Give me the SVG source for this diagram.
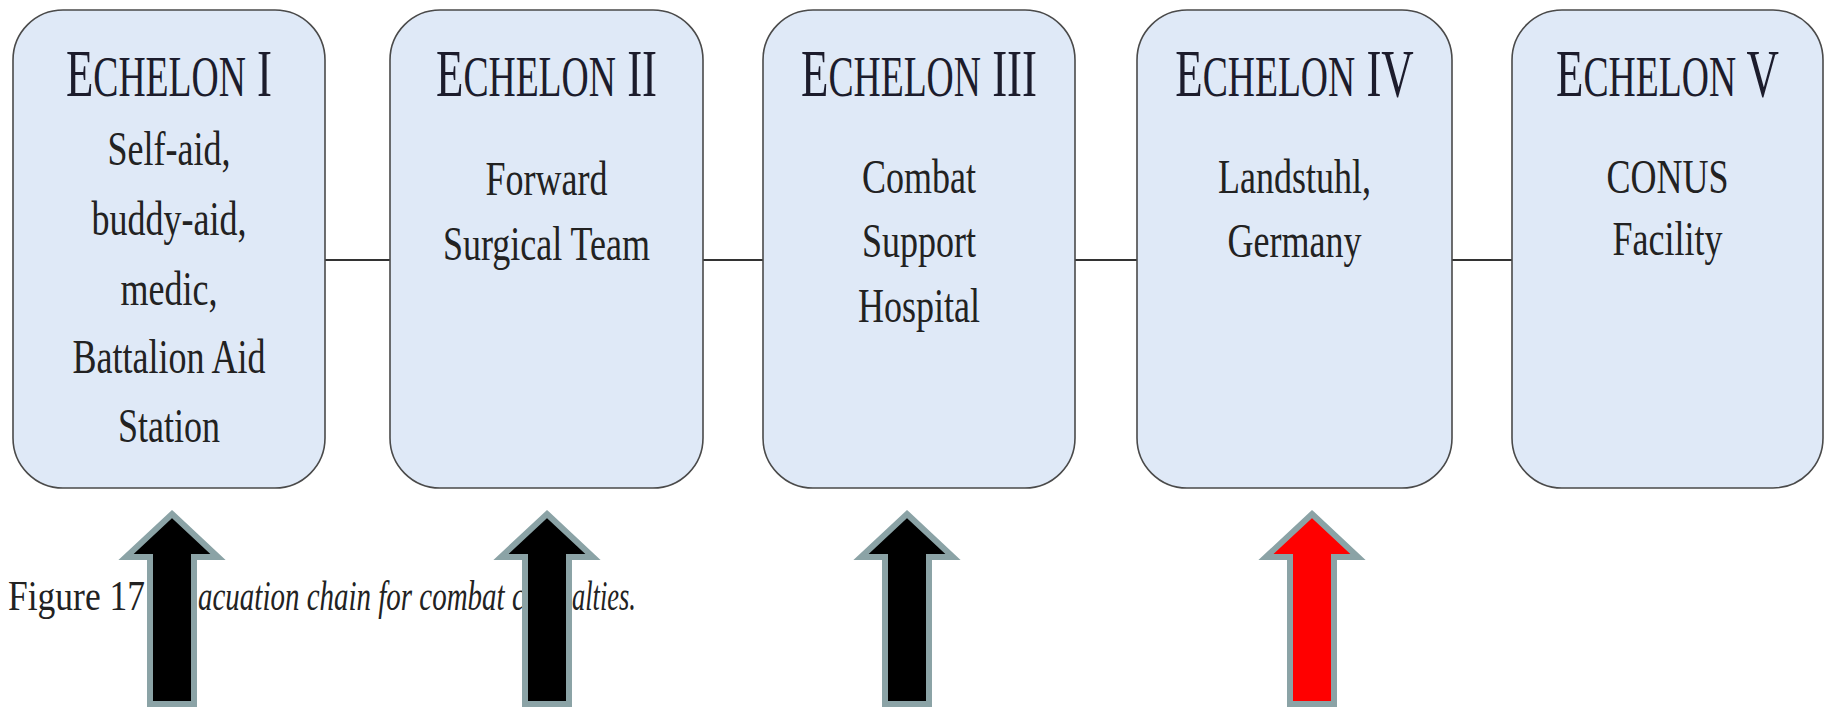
<svg xmlns="http://www.w3.org/2000/svg" width="1825" height="709" viewBox="0 0 1825 709">
<style>
.box{fill:#dfe9f7;stroke:#4a4a4a;stroke-width:1.6}
.title{font-family:"Liberation Serif",serif;fill:#1c1c2c;text-anchor:middle}
.big{font-size:68px}
.sc{font-size:57px}
.body{font-family:"Liberation Serif",serif;font-size:48px;fill:#222;text-anchor:middle}
.conn{stroke:#333;stroke-width:2;fill:none}
.cap{font-family:"Liberation Serif",serif;font-size:42px;fill:#222}
.arrow{stroke:#8ba3a6;stroke-width:6;stroke-linejoin:miter}
</style>
<rect width="1825" height="709" fill="#ffffff"/>
<g id="connectors">
<line class="conn" x1="325" y1="260" x2="390" y2="260"/>
<line class="conn" x1="703" y1="260" x2="763" y2="260"/>
<line class="conn" x1="1075" y1="260" x2="1137" y2="260"/>
<line class="conn" x1="1452" y1="260" x2="1512" y2="260"/>
</g>
<g id="echelon1">
<rect class="box" x="13" y="10" width="312" height="478" rx="50"/>
<text class="title" transform="translate(169 96) scale(0.66 1)"><tspan class="big">E</tspan><tspan class="sc">CHELON</tspan><tspan class="big"> I</tspan></text>
<g transform="translate(169 0) scale(0.75 1)">
<text class="body" x="0" y="165">Self-aid,</text>
<text class="body" x="0" y="235">buddy-aid,</text>
<text class="body" x="0" y="305">medic,</text>
<text class="body" x="0" y="373">Battalion Aid</text>
<text class="body" x="0" y="442">Station</text>
</g>
</g>
<g id="echelon2">
<rect class="box" x="390" y="10" width="313" height="478" rx="50"/>
<text class="title" transform="translate(546.5 96) scale(0.66 1)"><tspan class="big">E</tspan><tspan class="sc">CHELON</tspan><tspan class="big"> II</tspan></text>
<g transform="translate(546.5 0) scale(0.75 1)">
<text class="body" x="0" y="195">Forward</text>
<text class="body" x="0" y="260">Surgical Team</text>
</g>
</g>
<g id="echelon3">
<rect class="box" x="763" y="10" width="312" height="478" rx="50"/>
<text class="title" transform="translate(919 96) scale(0.66 1)"><tspan class="big">E</tspan><tspan class="sc">CHELON</tspan><tspan class="big"> III</tspan></text>
<g transform="translate(919 0) scale(0.75 1)">
<text class="body" x="0" y="193">Combat</text>
<text class="body" x="0" y="257">Support</text>
<text class="body" x="0" y="322">Hospital</text>
</g>
</g>
<g id="echelon4">
<rect class="box" x="1137" y="10" width="315" height="478" rx="50"/>
<text class="title" transform="translate(1294.5 96) scale(0.66 1)"><tspan class="big">E</tspan><tspan class="sc">CHELON</tspan><tspan class="big"> IV</tspan></text>
<g transform="translate(1294.5 0) scale(0.75 1)">
<text class="body" x="0" y="193">Landstuhl,</text>
<text class="body" x="0" y="257">Germany</text>
</g>
</g>
<g id="echelon5">
<rect class="box" x="1512" y="10" width="311" height="478" rx="50"/>
<text class="title" transform="translate(1667.5 96) scale(0.66 1)"><tspan class="big">E</tspan><tspan class="sc">CHELON</tspan><tspan class="big"> V</tspan></text>
<g transform="translate(1667.5 0) scale(0.75 1)">
<text class="body" x="0" y="193">CONUS</text>
<text class="body" x="0" y="255">Facility</text>
</g>
</g>
<g id="caption">
<text class="cap" transform="translate(8 610) scale(0.845 1)" x="0" y="0">Figure 17</text>
<text class="cap" transform="translate(198 610) scale(0.69 1)" x="0" y="0" font-style="italic">acuation chain for combat c</text>
<text class="cap" transform="translate(572 610) scale(0.63 1)" x="0" y="0" font-style="italic">alties.</text>
</g>
<g id="arrows">
<path class="arrow" fill="#000" d="M172 514 L218 557 L194 557 L194 704 L150 704 L150 557 L126 557 Z"/>
<path class="arrow" fill="#000" d="M547 514 L593 557 L569 557 L569 704 L525 704 L525 557 L501 557 Z"/>
<path class="arrow" fill="#000" d="M907 514 L953 557 L929 557 L929 704 L885 704 L885 557 L861 557 Z"/>
<path class="arrow" fill="#ff0000" d="M1312 514 L1358 557 L1334 557 L1334 704 L1290 704 L1290 557 L1266 557 Z"/>
</g>
</svg>
